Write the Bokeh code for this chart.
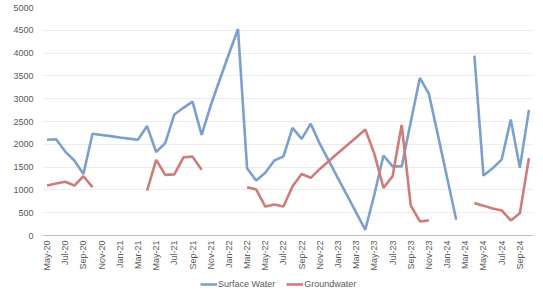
import math
from bokeh.plotting import figure
from bokeh.layouts import column
from bokeh.models import Range1d, FixedTicker, Legend, LegendItem
from bokeh.embed import file_html
from bokeh.resources import INLINE

NaN = float("nan")

months = ["May-20", "Jun-20", "Jul-20", "Aug-20", "Sep-20", "Oct-20", "Nov-20", "Dec-20",
          "Jan-21", "Feb-21", "Mar-21", "Apr-21", "May-21", "Jun-21", "Jul-21", "Aug-21",
          "Sep-21", "Oct-21", "Nov-21", "Dec-21", "Jan-22", "Feb-22", "Mar-22", "Apr-22",
          "May-22", "Jun-22", "Jul-22", "Aug-22", "Sep-22", "Oct-22", "Nov-22", "Dec-22",
          "Jan-23", "Feb-23", "Mar-23", "Apr-23", "May-23", "Jun-23", "Jul-23", "Aug-23",
          "Sep-23", "Oct-23", "Nov-23", "Dec-23", "Jan-24", "Feb-24", "Mar-24", "Apr-24",
          "May-24", "Jun-24", "Jul-24", "Aug-24", "Sep-24", "Oct-24"]

surface_water = [2100, 2110, 1840, 1645, 1350, 2230, 2205, 2180, 2150, 2125,
                 2100, 2400, 1830, 2025, 2655, 2800, 2935, 2205, 2850, 3420,
                 3980, 4530, 1475, 1205, 1375, 1645, 1735, 2360, 2120, 2450,
                 2010, 1635, 1255, 880, 500, 125, 900, 1755, 1515, 1515,
                 2490, 3455, 3105, 2190, 1265, 345, NaN, 3945, 1315, 1475,
                 1665, 2545, 1485, 2755]

groundwater = [1095, 1140, 1180, 1095, 1300, 1060, NaN, NaN, NaN, NaN,
               NaN, 985, 1660, 1330, 1340, 1715, 1730, 1440, NaN, NaN,
               NaN, NaN, 1060, 1010, 635, 680, 635, 1080, 1350, 1265,
               1460, 1635, 1810, 1980, 2150, 2325, 1790, 1045, 1300, 2425,
               660, 310, 330, NaN, NaN, NaN, NaN, 710, 655, 590,
               550, 330, 490, 1700]

series_names = ["Surface Water", "Groundwater"]
y_ticks = [0, 500, 1000, 1500, 2000, 2500, 3000, 3500, 4000, 4500, 5000]

x = list(range(len(months)))
FONT = "Liberation Sans"
TXT = "#595959"
BLUE = "#7B9FCF"
RED = "#CF7B79"

p = figure(width=543, height=278, output_backend="svg", toolbar_location=None,
           x_range=Range1d(-0.5, len(months) - 0.5), y_range=Range1d(0, 5000),
           min_border_left=42, min_border_right=10, min_border_top=7, min_border_bottom=43)
p.outline_line_color = None
p.background_fill_color = "white"
p.border_fill_color = "white"

p.line(x, surface_water, line_color=BLUE, line_width=2.6)
p.line(x, groundwater, line_color=RED, line_width=2.6)

p.xgrid.grid_line_color = None
p.ygrid.grid_line_color = "#EBEBEB"
p.ygrid.grid_line_width = 1
p.yaxis.ticker = FixedTicker(ticks=y_ticks)
p.yaxis.axis_line_color = None
p.yaxis.major_tick_line_color = None
p.yaxis.minor_tick_line_color = None
p.yaxis.major_tick_out = 0
p.yaxis.minor_tick_out = 0
p.yaxis.major_label_standoff = 9
p.yaxis.major_label_text_font = FONT
p.yaxis.major_label_text_font_size = "9px"
p.yaxis.major_label_text_color = TXT

p.xaxis.ticker = FixedTicker(ticks=x[::2])
p.xaxis.major_label_overrides = {i: months[i] for i in x[::2]}
p.xaxis.major_label_orientation = math.pi / 2
p.xaxis.axis_line_color = "#BFBFBF"
p.xaxis.major_tick_line_color = None
p.xaxis.minor_tick_line_color = None
p.xaxis.major_tick_out = 0
p.xaxis.minor_tick_out = 0
p.xaxis.major_label_standoff = 5
p.xaxis.major_label_text_font = FONT
p.xaxis.major_label_text_font_size = "9px"
p.xaxis.major_label_text_color = TXT

# legend strip below the chart (series lie outside this strip's 0..1 range, so only the legend shows)
lg = figure(width=543, height=12, output_backend="svg", toolbar_location=None,
            x_range=Range1d(0, 1), y_range=Range1d(0, 1),
            min_border=0, x_axis_type=None, y_axis_type=None)
lg.outline_line_color = None
lg.xgrid.visible = False
lg.ygrid.visible = False
lb = lg.line(x, surface_water, line_color=BLUE, line_width=2.6)
lr = lg.line(x, groundwater, line_color=RED, line_width=2.6)
legend = Legend(items=[LegendItem(label=series_names[0], renderers=[lb]),
                       LegendItem(label=series_names[1], renderers=[lr])],
                orientation="horizontal", location=(158, 0),
                label_text_font=FONT, label_text_font_size="9px", label_text_color=TXT,
                glyph_width=17, glyph_height=12, label_standoff=1, spacing=11,
                padding=0, margin=0, border_line_color=None, background_fill_alpha=0,
                label_height=12)
lg.add_layout(legend, "center")

open("out.html", "w").write(file_html(column(p, lg, spacing=0), INLINE))
